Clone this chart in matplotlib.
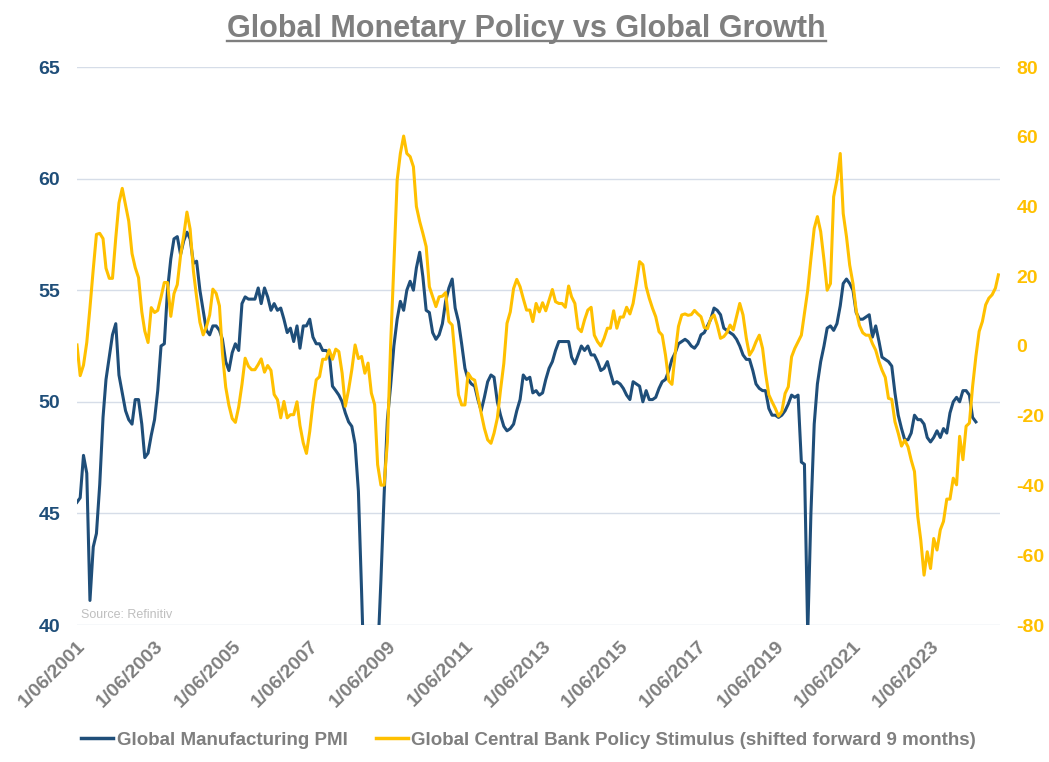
import matplotlib
matplotlib.use("Agg")
import matplotlib.pyplot as plt
import matplotlib.dates as mdates
from matplotlib.lines import Line2D
from matplotlib.ticker import FuncFormatter
import pandas as pd

# monthly values, first point June 2001
pmi = [
    45.5, 45.7, 47.6, 46.8, 41.1, 43.5, 44.1, 46.3, 49.3, 51.0, 52.0, 53.0,
    53.5, 51.2, 50.4, 49.6, 49.2, 49.0, 50.1, 50.1, 49.0, 47.5, 47.7, 48.5,
    49.2, 50.5, 52.5, 52.6, 55.0, 56.4, 57.3, 57.4, 56.6, 57.2, 57.6, 57.3,
    56.2, 56.3, 55.0, 54.1, 53.2, 53.0, 53.4, 53.4, 53.2, 52.8, 51.8, 51.4,
    52.2, 52.6, 52.3, 54.4, 54.7, 54.6, 54.6, 54.6, 55.1, 54.4, 55.1, 54.7,
    54.1, 54.4, 54.1, 54.2, 53.7, 53.1, 53.3, 52.7, 53.4, 52.4, 53.4, 53.4,
    53.7, 52.9, 52.6, 52.6, 52.3, 52.3, 52.2, 50.7, 50.5, 50.3, 50.0, 49.5,
    49.1, 48.9, 48.1, 46.0, 41.5, 36.5, 33.7, 34.4, 35.6, 38.5, 42.0, 45.8,
    49.2, 50.7, 52.5, 53.7, 54.5, 54.1, 55.0, 55.4, 55.0, 56.0, 56.7, 55.6,
    54.1, 54.0, 53.1, 52.8, 53.0, 53.5, 54.5, 55.1, 55.5, 54.2, 53.6, 52.6,
    51.5, 51.0, 50.8, 50.7, 50.1, 49.6, 50.2, 50.9, 51.2, 51.1, 50.0, 49.4,
    48.9, 48.7, 48.8, 49.0, 49.6, 50.1, 51.2, 51.0, 51.1, 50.4, 50.5, 50.3,
    50.4, 51.0, 51.5, 51.8, 52.3, 52.7, 52.7, 52.7, 52.7, 52.0, 51.7, 52.1,
    52.5, 52.3, 52.5, 52.1, 52.1, 51.8, 51.4, 51.5, 51.8, 51.3, 50.8, 50.9,
    50.8, 50.6, 50.3, 50.1, 50.9, 50.8, 50.7, 50.0, 50.5, 50.1, 50.1, 50.2,
    50.6, 50.9, 51.0, 51.4, 51.9, 52.2, 52.6, 52.7, 52.8, 52.7, 52.5, 52.4,
    52.6, 53.0, 53.1, 53.4, 53.7, 54.2, 54.1, 53.9, 53.3, 53.2, 53.1, 53.0,
    52.8, 52.5, 52.1, 51.9, 51.9, 51.4, 50.8, 50.6, 50.5, 50.5, 49.7, 49.4,
    49.4, 49.3, 49.4, 49.6, 49.9, 50.3, 50.2, 50.3, 47.3, 47.2, 39.6, 45.0,
    49.0, 50.8, 51.8, 52.5, 53.3, 53.4, 53.2, 53.5, 54.3, 55.3, 55.5, 55.3,
    55.0, 54.0, 53.7, 53.7, 53.8, 53.9, 52.9, 53.4, 52.7, 52.0, 51.9, 51.8,
    51.6, 50.4, 49.4, 48.8, 48.3, 48.3, 48.6, 49.4, 49.2, 49.2, 49.0, 48.4,
    48.2, 48.4, 48.7, 48.4, 48.8, 48.6, 49.5, 50.0, 50.2, 50.0, 50.5, 50.5,
    50.3, 49.3, 49.1,
]

stimulus = [
    0.3, -8.5, -5.5, 1.0, 11.0, 22.0, 32.0, 32.3, 30.8, 22.3, 19.4, 19.4,
    31.0, 41.0, 45.2, 40.5, 35.8, 26.5, 22.5, 19.6, 9.8, 4.3, 1.0, 11.0,
    9.6, 10.2, 14.0, 18.2, 18.2, 8.5, 15.0, 17.6, 26.0, 31.5, 38.4, 33.5,
    21.5, 14.0, 6.8, 3.2, 5.5, 8.9, 16.3, 15.1, 11.5, -2.0, -11.8, -17.0,
    -20.8, -21.9, -17.5, -11.0, -3.5, -5.8, -6.8, -6.8, -5.3, -3.7, -7.5, -5.6,
    -7.0, -13.9, -15.4, -20.6, -15.9, -20.6, -19.7, -19.7, -16.0, -22.8, -27.8, -30.8,
    -24.5, -16.4, -9.7, -8.8, -3.8, -3.8, -1.1, -3.8, -0.9, -1.6, -7.8, -17.3,
    -12.5, -6.8, 0.3, -3.6, -3.0, -7.8, -4.9, -13.5, -16.8, -34.0, -39.9, -39.9,
    -27.5, 0.0, 23.3, 47.6, 55.2, 60.2, 55.2, 54.3, 51.4, 40.0, 35.7, 32.3,
    28.5, 17.0, 14.1, 11.3, 14.1, 14.3, 15.3, 7.0, 6.0, -3.5, -14.0, -16.9,
    -16.9, -7.8, -9.3, -9.8, -14.5, -19.3, -23.6, -26.9, -27.9, -25.0, -20.7, -12.6,
    -5.0, 6.5, 9.8, 16.5, 19.1, 17.0, 13.6, 10.3, 10.3, 7.0, 12.2, 9.8,
    12.4, 10.1, 13.2, 16.2, 12.7, 12.2, 12.2, 11.1, 17.2, 14.1, 12.2, 5.1,
    4.1, 7.5, 10.3, 11.1, 3.1, 1.2, 0.0, 2.2, 5.1, 5.1, 10.1, 5.1,
    8.3, 8.3, 11.1, 9.2, 12.2, 18.0, 24.2, 23.3, 17.0, 13.7, 10.8, 8.4,
    4.1, 3.1, -2.6, -10.0, -11.0, -1.9, 5.6, 8.9, 9.2, 8.8, 9.0, 10.2,
    9.2, 8.4, 5.3, 5.0, 7.9, 8.9, 6.0, 2.2, 2.7, 3.8, 6.0, 4.6,
    8.4, 12.2, 8.9, 2.2, -2.6, -1.1, 1.2, 3.1, -0.7, -7.8, -14.0, -16.0,
    -17.9, -20.1, -18.8, -13.6, -11.7, -3.1, -0.7, 1.2, 3.1, 9.3, 16.0, 25.0,
    33.7, 37.1, 32.8, 24.7, 16.0, 17.9, 42.8, 47.6, 55.2, 38.0, 31.3, 23.2,
    17.9, 10.2, 5.9, 3.8, 3.1, 3.1, 0.7, -1.2, -4.5, -6.9, -9.0, -15.0,
    -15.3, -21.7, -25.0, -28.7, -27.0, -28.9, -32.7, -36.0, -48.9, -55.6, -65.7, -59.0,
    -63.8, -55.2, -58.5, -52.7, -50.3, -43.9, -43.9, -37.9, -39.8, -25.9, -32.6, -23.0,
    -22.1, -11.6, -3.0, 4.2, 7.0, 11.8, 13.7, 14.7, 16.6, 20.4,
]

pmi_dates = pd.date_range("2001-06-01", periods=len(pmi), freq="MS")
stim_dates = pd.date_range("2001-06-01", periods=len(stimulus), freq="MS")
tick_dates = [pd.Timestamp(y, 6, 1) for y in range(2001, 2024, 2)]

NAVY = "#1f4e79"
GOLD = "#ffc000"
GREY = "#7f7f7f"
plt.rcParams["font.family"] = ["Liberation Sans", "DejaVu Sans"]
plt.rcParams["axes.unicode_minus"] = False

fig = plt.figure(figsize=(10.49, 7.62), dpi=100)
ax = fig.add_axes([77 / 1049, 1 - 625 / 762, 923 / 1049, 558 / 762])
ax2 = ax.twinx()

ax.plot(pmi_dates, pmi, color=NAVY, lw=2.2)
ax2.plot(stim_dates, stimulus, color=GOLD, lw=2.2)

ax.set_ylim(40, 65)
ax.set_yticks(range(40, 66, 5))
ax2.set_ylim(-80, 80)
ax2.set_yticks(range(-80, 81, 20))
ax.set_xlim(pd.Timestamp("2001-06-01"), pd.Timestamp("2025-03-16"))
ax.set_xticks(tick_dates)


def date_label(v, pos):
    d = mdates.num2date(v)
    return "{}/{:02d}/{}".format(d.day, d.month, d.year)


ax.xaxis.set_major_formatter(FuncFormatter(date_label))

ax.grid(axis="y", color="#d6dde8", lw=1)
ax.set_axisbelow(True)
for a in (ax, ax2):
    for s in a.spines.values():
        s.set_visible(False)

ax.tick_params(axis="y", length=0, pad=12, labelsize=14, labelcolor=NAVY)
ax2.tick_params(axis="y", length=0, pad=12, labelsize=14, labelcolor=GOLD)
ax.tick_params(axis="x", length=0, pad=9, labelsize=14, labelcolor=GREY)
for lab in ax.get_yticklabels() + ax2.get_yticklabels() + ax.get_xticklabels():
    lab.set_fontweight("bold")
for lab in ax.get_xticklabels():
    lab.set_rotation(45)
    lab.set_ha("right")
    lab.set_va("top")
    lab.set_rotation_mode("anchor")

ax.text(0.004, 0.018, "Source: Refinitiv", transform=ax.transAxes, fontsize=9,
        color="#bfbfbf", ha="left", va="center")

title = fig.text(0.502, 1 - 37 / 762, "Global Monetary Policy vs Global Growth",
                 ha="center", va="baseline", fontsize=22, fontweight="bold", color=GREY)
fig.canvas.draw()
bb = title.get_window_extent()
W, H = fig.bbox.width, fig.bbox.height
uy = (bb.y0 + 3) / H
fig.add_artist(Line2D([bb.x0 / W, bb.x1 / W], [uy, uy], color=GREY, lw=1.7,
                      transform=fig.transFigure))

handles = [Line2D([], [], color=NAVY, lw=2.5), Line2D([], [], color=GOLD, lw=2.5)]
labels = ["Global Manufacturing PMI",
          "Global Central Bank Policy Stimulus (shifted forward 9 months)"]
fig.legend(handles, labels, loc="center", bbox_to_anchor=(0.504, 1 - 740 / 762), ncol=2,
           frameon=False, handlelength=1.7, handletextpad=0.2, columnspacing=1.5,
           prop={"size": 13.5, "weight": "bold"}, labelcolor=GREY)

fig.savefig("out.png", dpi=100)
